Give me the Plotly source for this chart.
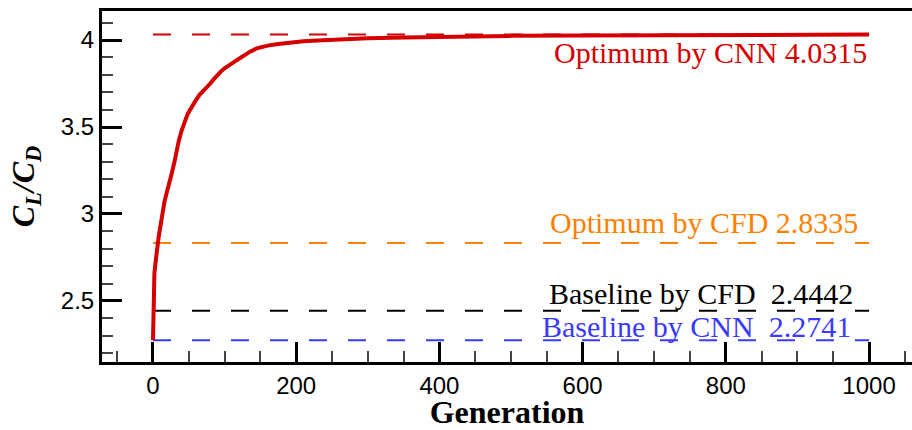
import plotly.graph_objects as go

# ---- data ----
generation = [0, 0.5, 1, 2, 4, 6, 8, 10, 13, 16, 19, 22, 26, 30, 33, 36, 40, 44, 48, 52,
              56, 60, 65, 70, 75, 80, 85, 90, 95, 100, 108, 116, 125, 135, 145, 160, 175,
              190, 210, 230, 260, 300, 350, 400, 450, 500, 600, 700, 800, 900, 1000]
cl_cd = [2.2741, 2.45, 2.632, 2.66, 2.735, 2.82, 2.87, 2.92, 3.0, 3.07, 3.12, 3.16, 3.23,
         3.30, 3.37, 3.42, 3.48, 3.53, 3.57, 3.60, 3.63, 3.655, 3.685, 3.705, 3.728, 3.75,
         3.775, 3.80, 3.82, 3.838, 3.862, 3.882, 3.905, 3.932, 3.952, 3.968, 3.977, 3.985,
         3.993, 3.998, 4.004, 4.01, 4.014, 4.019, 4.022, 4.024, 4.026, 4.028, 4.029, 4.030,
         4.0315]

ref_labels = ["Optimum by CNN 4.0315", "Optimum by CFD 2.8335",
              "Baseline by CFD  2.4442", "Baseline by CNN  2.2741"]
ref_values = [4.0315, 2.8335, 2.4442, 2.2741]
ref_colors = ["#d40000", "#ff8000", "#000000", "#3a3aff"]
ref_span = [0, 1000]

x_ticks = [0, 200, 400, 600, 800, 1000]
y_ticks = [2.5, 3, 3.5, 4]

# ---- layout styling ----
label_x = [1000, 988, 981, 978]
label_yshift = [-18, 20, 17, 14]

fig = go.Figure()

for val, col in zip(ref_values, ref_colors):
    fig.add_trace(go.Scatter(x=ref_span, y=[val, val], mode="lines",
                             line=dict(color=col, width=2, dash="18px,21px"),
                             hoverinfo="skip", showlegend=False))

fig.add_trace(go.Scatter(x=generation, y=cl_cd, mode="lines",
                         line=dict(color="#d40000", width=4),
                         showlegend=False))

for txt, val, col, xx, ys in zip(ref_labels, ref_values, ref_colors, label_x, label_yshift):
    fig.add_annotation(x=xx, y=val, xref="x", yref="y", text=txt, showarrow=False,
                       xanchor="right", yanchor="middle", yshift=ys,
                       font=dict(family="Liberation Serif", size=30, color=col))

axis_common = dict(showgrid=False, zeroline=False, showline=True, linecolor="black",
                   linewidth=3, ticks="inside", tickcolor="black", tickwidth=3,
                   ticklen=20,
                   tickfont=dict(family="Liberation Sans", size=24, color="black"))

fig.update_xaxes(range=[-71.2, 1060], tickvals=x_ticks, mirror=True,
                 minor=dict(dtick=50, ticks="inside", ticklen=11, tickwidth=1.5,
                            tickcolor="#444"),
                 title=dict(text="<b>Generation</b>", standoff=3,
                            font=dict(family="Liberation Serif", size=32, color="black")),
                 **axis_common)
fig.update_yaxes(range=[2.149, 4.167], tickvals=y_ticks,
                 minor=dict(dtick=0.1, ticks="inside", ticklen=11, tickwidth=1.5,
                            tickcolor="#444"),
                 title=dict(text="<b><i>C<sub>L</sub>/C<sub>D</sub></i></b>", standoff=17,
                            font=dict(family="Liberation Serif", size=32, color="black")),
                 **axis_common)

fig.update_layout(width=912, height=430,
                  margin=dict(l=102, r=0, t=11, b=68),
                  plot_bgcolor="white", paper_bgcolor="white")

fig.write_html("out.html", config={"displayModeBar": False},
               post_script="document.body.style.margin='0';document.body.style.padding='0';")
